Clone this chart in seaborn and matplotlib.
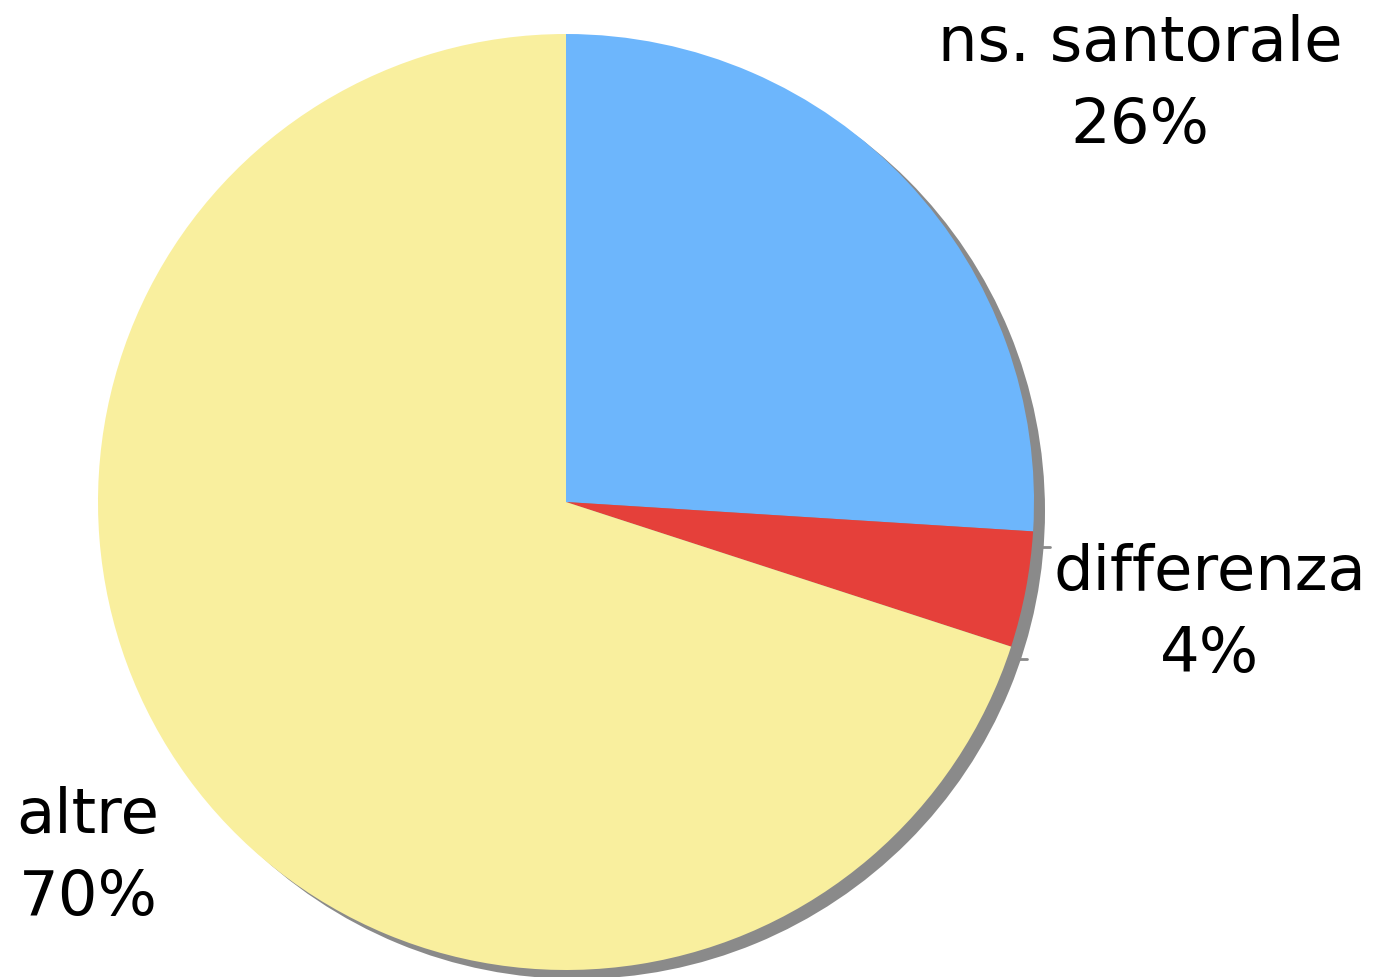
import matplotlib
matplotlib.use("Agg")
import matplotlib.pyplot as plt
import seaborn as sns

sns.set_style("white")
plt.rcParams['font.family'] = ['DejaVu Sans']

# data
labels = ["ns. santorale", "differenza", "altre"]
shares = [26, 4, 70]
colors = ["#6db6fc", "#e5403a", "#f9ef9e"]
shadow_col = "#8a8a8a"

W, H = 1377, 978
fig = plt.figure(figsize=(W / 100, H / 100), dpi=100)
cx, cy, r = 566, 503, 468
ax = fig.add_axes([(cx - r) / W, (H - cy - r) / H, 2 * r / W, 2 * r / H])

# drop shadow
ax.pie([1], colors=[shadow_col], radius=1, center=(11 / r, -9 / r),
       wedgeprops=dict(linewidth=0), frame=True)
ax.pie(shares, colors=colors, startangle=90, counterclock=False,
       radius=1, wedgeprops=dict(linewidth=0), frame=True)
ax.set_xlim(-1, 1)
ax.set_ylim(-1, 1)
ax.set_aspect("equal")
ax.axis("off")

# small leader ticks
ax.plot([(1036 - cx) / r, (1050 - cx) / r], [-(548 - cy) / r] * 2, color=shadow_col, lw=2, clip_on=False)
ax.plot([(1015 - cx) / r, (1027 - cx) / r], [-(660 - cy) / r] * 2, color=shadow_col, lw=2, clip_on=False)

label_pos = [(1140, 85), (1210, 614), (88, 857)]
for lab, val, (px, py) in zip(labels, shares, label_pos):
    fig.text(px / W, 1 - py / H, f"{lab}\n{val}%", ha="center", va="center",
             fontsize=45, linespacing=1.45, color="black")

fig.savefig("out.png", dpi=100)
